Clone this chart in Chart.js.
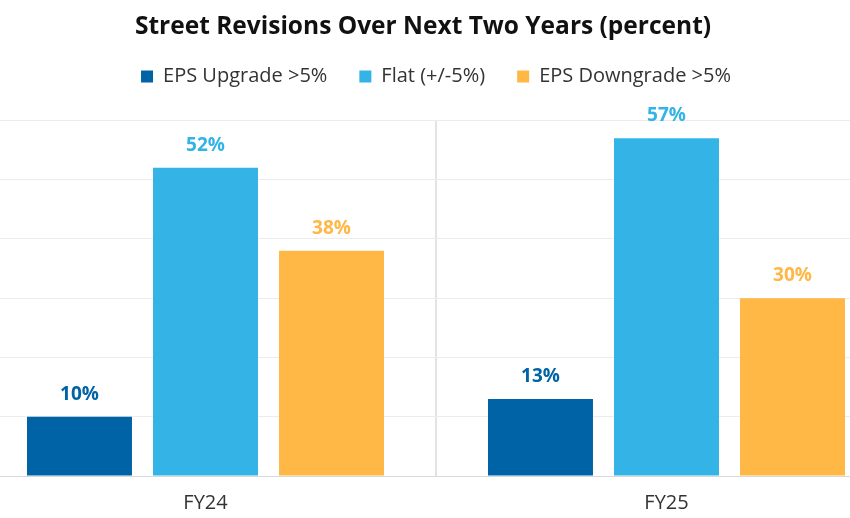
<!DOCTYPE html>
<html>
<head>
<meta charset="utf-8">
<script src="https://cdn.jsdelivr.net/npm/chart.js@4/dist/chart.umd.min.js"></script>
<style>
    html, body { margin: 0; padding: 0; background: #fff; overflow: hidden; }
    #wrap { position: absolute; left: -51px; top: 0; width: 948px; height: 518px; }
</style>
</head>
<body>
<div id="wrap"><canvas id="chart" width="948" height="518"></canvas></div>
<script>
// chart data
const categories = ['FY24', 'FY25'];
const seriesNames = ['EPS Upgrade >5%', 'Flat (+/-5%)', 'EPS Downgrade >5%'];
const upgradeValues = [10, 13];
const flatValues = [52, 57];
const downgradeValues = [38, 30];
const yTicks = [0, 10, 20, 30, 40, 50, 60];

const colors = ['#0063a6', '#33b3e6', '#ffb745'];
const FONT = '"Open Sans", "Liberation Sans", sans-serif';

// draw value labels above each bar
const barLabels = {
    id: 'barLabels',
    afterDatasetsDraw(chart) {
        const ctx = chart.ctx;
        ctx.save();
        ctx.font = 'bold 19px ' + FONT;
        ctx.textAlign = 'center';
        ctx.textBaseline = 'alphabetic';
        chart.data.datasets.forEach((ds, i) => {
            const meta = chart.getDatasetMeta(i);
            ctx.fillStyle = ds.backgroundColor;
            meta.data.forEach((bar, j) => {
                ctx.fillText(ds.data[j] + '%', bar.x, bar.y - 17);
            });
        });
        ctx.restore();
    }
};

// extra room under the legend
const legendGap = {
    id: 'legendGap',
    beforeInit(chart) {
        const fit = chart.legend.fit;
        chart.legend.fit = function() {
            fit.bind(chart.legend)();
            this.height += 24;
        };
    }
};

const ctx = document.getElementById('chart').getContext('2d');
new Chart(ctx, {
    type: 'bar',
    data: {
        labels: categories,
        datasets: [
            { label: seriesNames[0], data: upgradeValues, backgroundColor: colors[0] },
            { label: seriesNames[1], data: flatValues, backgroundColor: colors[1] },
            { label: seriesNames[2], data: downgradeValues, backgroundColor: colors[2] }
        ]
    },
    options: {
        responsive: false,
        animation: false,
        categoryPercentage: 0.82,
        barPercentage: 0.833,
        layout: { padding: 0 },
        plugins: {
            title: {
                display: true,
                text: 'Street Revisions Over Next Two Years (percent)',
                color: '#111',
                font: { family: FONT, size: 24.5, weight: 'bold' },
                padding: { top: 12, bottom: -7 }
            },
            legend: {
                position: 'top',
                fullSize: false,
                labels: {
                    color: '#333',
                    font: { family: FONT, size: 20 },
                    boxWidth: 12,
                    boxHeight: 12,
                    padding: 32
                }
            },
            tooltip: { enabled: false }
        },
        scales: {
            x: {
                afterFit: axis => { axis.height = 42; },
                grid: {
                    offset: true,
                    drawTicks: false,
                    lineWidth: 2,
                    color: c => c.index === 1 ? '#e3e3e3' : 'rgba(0,0,0,0)'
                },
                border: { display: true, color: '#d9d9d9', width: 1 },
                ticks: { color: '#333', font: { family: FONT, size: 20 }, padding: 15 }
            },
            y: {
                min: 0,
                max: 60,
                afterFit: axis => { axis.width = 26; },
                afterBuildTicks: axis => { axis.ticks = yTicks.map(v => ({ value: v })); },
                grid: { color: '#ececec', drawTicks: false },
                border: { display: false },
                ticks: { display: false }
            }
        }
    },
    plugins: [barLabels, legendGap]
});
</script>
</body>
</html>
